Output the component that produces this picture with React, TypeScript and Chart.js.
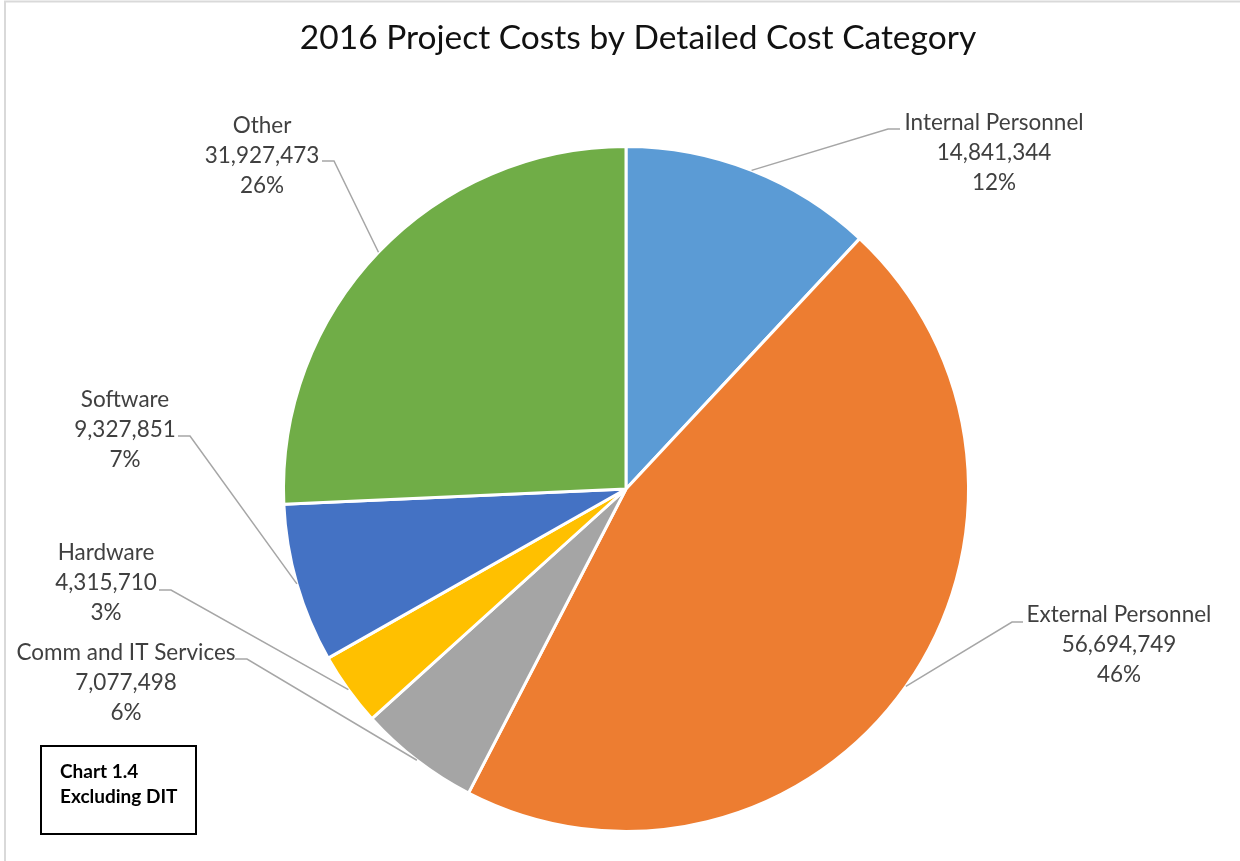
import React, { useEffect, useRef } from "react";
import { Chart, registerables } from "chart.js";

Chart.register(...registerables);

// ---- data ----
const categories = [
  "Internal Personnel",
  "External Personnel",
  "Comm and IT Services",
  "Hardware",
  "Software",
  "Other",
];
const costs = [14841344, 56694749, 7077498, 4315710, 9327851, 31927473];
const percentLabels = ["12%", "46%", "6%", "3%", "7%", "26%"];
const sliceColors = ["#5B9BD5", "#ED7D31", "#A5A5A5", "#FFC000", "#4472C4", "#70AD47"];
const chartTitle = "2016 Project Costs by Detailed Cost Category";
const noteLines = ["Chart 1.4", "Excluding DIT"];

// ---- label layout (text block centre, first line y, leader elbow/end) ----
const labelLayout = [
  { cx: 994, y: 123, ex: 888, ey: 129, tx: 900 },
  { cx: 1119, y: 615, ex: 1012, ey: 622, tx: 1023 },
  { cx: 126, y: 653, ex: 247, ey: 659, tx: 235 },
  { cx: 106, y: 553, ex: 171, ey: 590, tx: 159 },
  { cx: 125, y: 400, ex: 190, ey: 436, tx: 178 },
  { cx: 262, y: 126, ex: 334, ey: 161, tx: 322 },
];

const LABEL_FONT = "22.5px Lato";
const LINE_H = 30;

const decorPlugin = {
  id: "decor",
  beforeDraw(chart: any) {
    const ctx = chart.ctx;
    ctx.save();
    ctx.fillStyle = "#ffffff";
    ctx.fillRect(0, 0, chart.width, chart.height);
    ctx.strokeStyle = "#d9d9d9";
    ctx.lineWidth = 2;
    ctx.beginPath();
    ctx.moveTo(5, chart.height);
    ctx.lineTo(5, 1.5);
    ctx.lineTo(chart.width, 1.5);
    ctx.stroke();
    // title
    ctx.fillStyle = "#111111";
    ctx.font = "33.5px Lato";
    ctx.textAlign = "center";
    ctx.textBaseline = "middle";
    ctx.fillText(chartTitle, 638, 38);
    ctx.restore();
  },
  afterDatasetsDraw(chart: any) {
    const ctx = chart.ctx;
    const meta = chart.getDatasetMeta(0);
    ctx.save();
    meta.data.forEach((arc: any, i: number) => {
      const p = arc.getProps(["x", "y", "startAngle", "endAngle", "outerRadius"], true);
      const mid = (p.startAngle + p.endAngle) / 2;
      const sx = p.x + Math.cos(mid) * p.outerRadius;
      const sy = p.y + Math.sin(mid) * p.outerRadius;
      const L = labelLayout[i];
      ctx.strokeStyle = "#a6a6a6";
      ctx.lineWidth = 1.5;
      ctx.beginPath();
      ctx.moveTo(sx, sy);
      ctx.lineTo(L.ex, L.ey);
      ctx.lineTo(L.tx, L.ey);
      ctx.stroke();
      ctx.fillStyle = "#404040";
      ctx.font = LABEL_FONT;
      ctx.textAlign = "center";
      ctx.textBaseline = "middle";
      const lines = [categories[i], costs[i].toLocaleString("en-US"), percentLabels[i]];
      lines.forEach((t, k) => ctx.fillText(t, L.cx, L.y + k * LINE_H));
    });
    // note box
    ctx.strokeStyle = "#000000";
    ctx.lineWidth = 2;
    ctx.strokeRect(41, 746, 155, 88);
    ctx.fillStyle = "#000000";
    ctx.font = "bold 19px Lato";
    ctx.textAlign = "left";
    ctx.textBaseline = "middle";
    noteLines.forEach((t, k) => ctx.fillText(t, 60, 772 + k * 25));
    ctx.restore();
  },
};

export default function App() {
  const ref = useRef<HTMLCanvasElement | null>(null);
  useEffect(() => {
    if (!ref.current) return;
    const chart = new Chart(ref.current, {
      type: "pie",
      data: {
        labels: categories,
        datasets: [
          {
            data: costs,
            backgroundColor: sliceColors,
            borderColor: "#ffffff",
            borderWidth: 3,
          },
        ],
      },
      options: {
        responsive: false,
        animation: false,
        layout: { padding: { left: 282, right: 270, top: 145, bottom: 28 } },
        plugins: {
          legend: { display: false },
          title: { display: false },
          tooltip: { enabled: false },
        },
      },
      plugins: [decorPlugin],
    });
    return () => chart.destroy();
  }, []);
  return (
    <div style={{ position: "absolute", left: 0, top: 0, width: 1240, height: 861, background: "#fff" }}>
      <canvas ref={ref} width={1240} height={861} style={{ display: "block" }} />
    </div>
  );
}
